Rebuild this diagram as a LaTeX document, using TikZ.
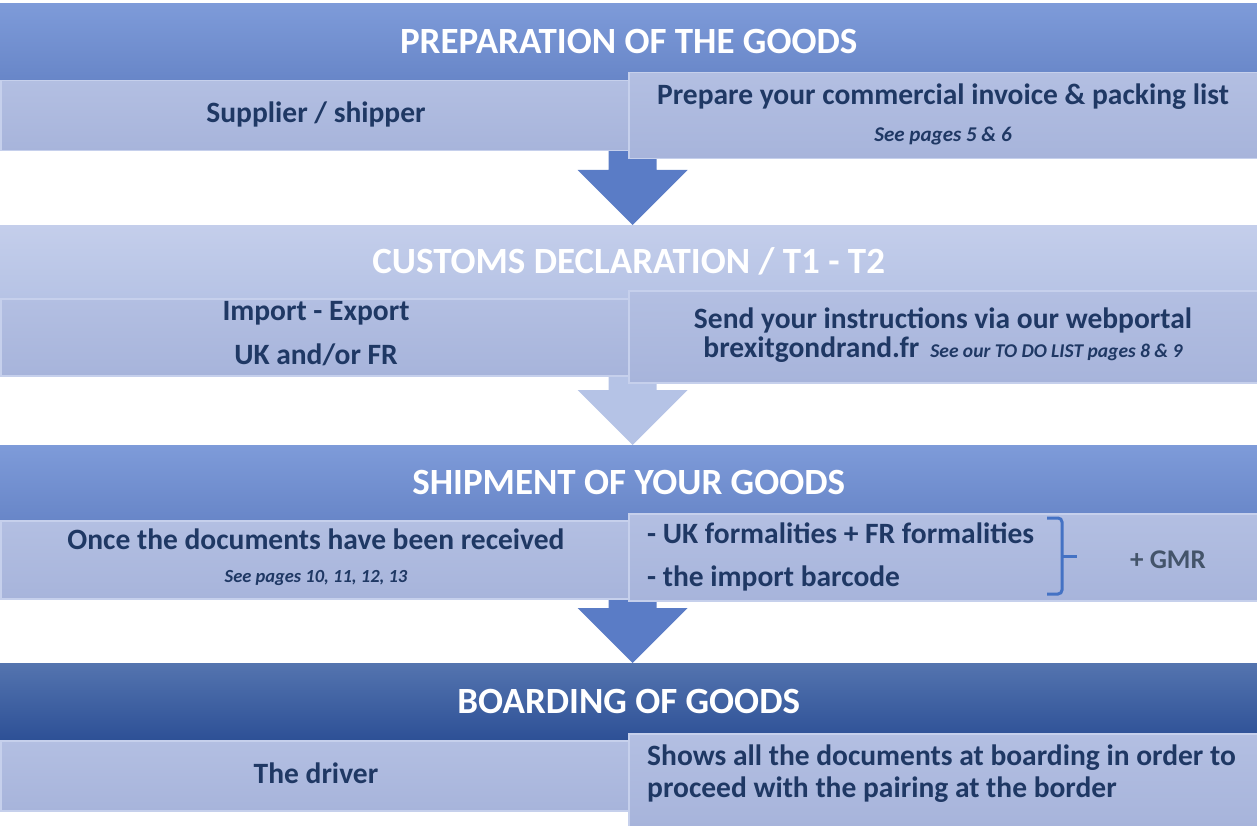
\documentclass[tikz,border=0pt]{standalone}
\usepackage{fontspec}
\setmainfont{Carlito}
\usetikzlibrary{calc,backgrounds}

\definecolor{hdrtop}{HTML}{7E9BD9}
\definecolor{hdrbot}{HTML}{6886C8}
\definecolor{lighttop}{HTML}{C4CEEB}
\definecolor{lightbot}{HTML}{B6C3E5}
\definecolor{darktop}{HTML}{5474AF}
\definecolor{darkbot}{HTML}{2D5096}
\definecolor{subtop}{HTML}{B3BFE2}
\definecolor{subbot}{HTML}{A7B4DB}
\definecolor{subedge}{HTML}{C6D0EC}
\definecolor{navy}{HTML}{1F3864}
\definecolor{greynavy}{HTML}{44546A}
\definecolor{arrowA}{HTML}{5A7CC6}
\definecolor{arrowB}{HTML}{B5C3E6}
\definecolor{bracecol}{HTML}{4472C4}

\newcommand{\smallnote}[1]{\fontsize{#1}{22}\selectfont\itshape}

% block arrow between two rows
\newcommand{\blockarrow}[3]{%
  \coordinate (tip) at ($(#3.north)+(4,0)$);
  \coordinate (top) at ($(#2.south -| tip)+(0,-8)$);
  \fill[#1] ($(top)+(-24,0)$) -- ($(top)+(24,0)$) -- ($(tip)+(24,-55)$)
    -- ($(tip)+(55,-55)$) -- (tip) -- ($(tip)+(-55,-55)$) -- ($(tip)+(-24,-55)$) -- cycle;}

\tikzset{
  hdr/.style={anchor=north west, inner sep=0, minimum width=1257pt, minimum height=#1,
    text=white, font=\fontsize{37}{44}\selectfont\bfseries},
  subbox/.style={anchor=north west, inner sep=0, draw=subedge, line width=1.5pt,
    top color=subtop, bottom color=subbot},
  body/.style={text=navy, inner sep=0, font=\fontsize{29.5}{34}\selectfont\bfseries},
  note/.style={text=navy, inner sep=0, font=\smallnote{#1}\bfseries},
}

\begin{document}
\begin{tikzpicture}[x=1pt, y=-1pt]
  \useasboundingbox (0,0) rectangle (1257,826);

  % row 1
  \node[hdr=77pt, top color=hdrtop, bottom color=hdrbot] (h1) at (0,3) {PREPARATION OF THE GOODS};
  \node[subbox, minimum width=630pt, minimum height=70pt] (s1l) at (0,80) {};
  \node[subbox, minimum width=629pt, minimum height=86pt] (s1r) at (628,72) {};
  \node[body] (t1l) at (316,114) {Supplier / shipper};
  \node[body] (t1r) at (943,97) {Prepare your commercial invoice \& packing list};
  \node[note=21] (n1r) at (943,136) {See pages 5 \& 6};

  % row 2
  \node[hdr=73pt, top color=lighttop, bottom color=lightbot] (h2) at (0,225) {CUSTOMS DECLARATION / T1 - T2};
  \node[subbox, minimum width=630pt, minimum height=77pt] (s2l) at (0,298) {};
  \node[subbox, minimum width=629pt, minimum height=92pt] (s2r) at (628,290) {};
  \node[body] (t2la) at (316,313) {Import - Export};
  \node[body] (t2lb) at (316,355) {UK and/or FR};
  \node[body] (t2ra) at (943,320) {Send your instructions via our webportal};
  \node[body] (t2rb) at (943,350) {brexitgondrand.fr {\smallnote{19.5} See our TO DO LIST pages 8 \& 9}};

  % row 3
  \node[hdr=75pt, top color=hdrtop, bottom color=hdrbot] (h3) at (0,445) {SHIPMENT OF YOUR GOODS};
  \node[subbox, minimum width=630pt, minimum height=78pt] (s3l) at (0,520) {};
  \node[subbox, minimum width=629pt, minimum height=87pt] (s3r) at (628,513) {};
  \node[body] (t3l) at (316,539) {Once the documents have been received};
  \node[note=18.5] (n3l) at (316,578) {See pages 10, 11, 12, 13};
  \node[body, anchor=west] (t3ra) at (647,533) {- UK formalities + FR formalities};
  \node[body, anchor=west] (t3rb) at (647,578) {- the import barcode};
  \draw[bracecol, line width=3pt, rounded corners=4pt] (1047,518) -- (1062,518) -- (1062,594) -- (1047,594);
  \draw[bracecol, line width=3pt] (1062,556) -- (1077,556);
  \node[body, font=\fontsize{27}{32}\selectfont\bfseries, text=greynavy] (gmr) at (1168,560) {+ GMR};

  % row 4
  \node[hdr=77pt, top color=darktop, bottom color=darkbot] (h4) at (0,663) {BOARDING OF GOODS};
  \node[subbox, minimum width=630pt, minimum height=70pt] (s4l) at (0,740) {};
  \node[subbox, minimum width=629pt, minimum height=93pt] (s4r) at (628,733) {};
  \node[body] (t4l) at (316,773) {The driver};
  \node[body, anchor=west] (t4ra) at (647,758) {Shows all the documents at boarding in order to};
  \node[body, anchor=west] (t4rb) at (647,790) {proceed with the pairing at the border};

  \begin{scope}[on background layer]
    \blockarrow{arrowA}{s1l}{h2}
    \blockarrow{arrowB}{s2l}{h3}
    \blockarrow{arrowA}{s3l}{h4}
  \end{scope}
\end{tikzpicture}
\end{document}
